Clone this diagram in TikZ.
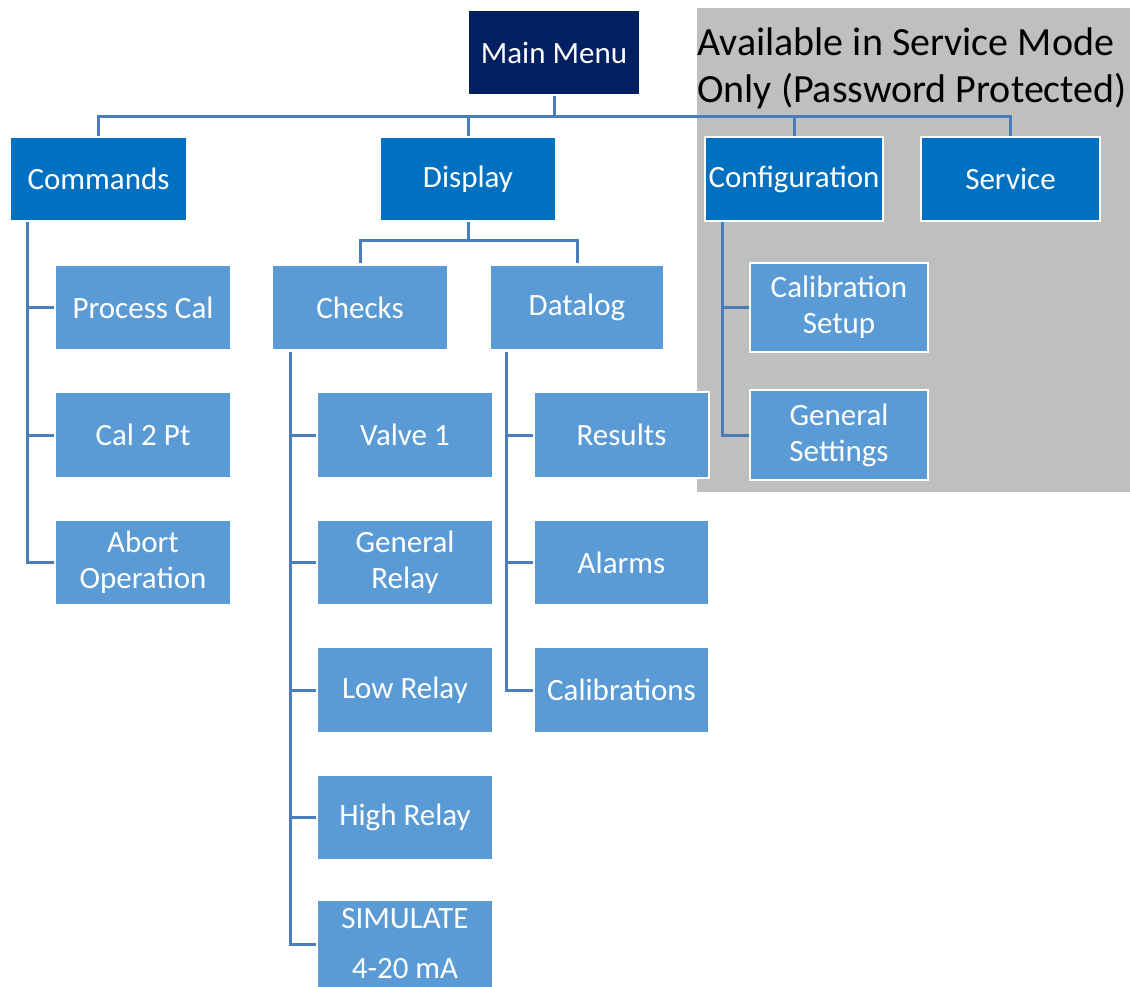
\documentclass[tikz,border=0pt]{standalone}
\usepackage{fontspec}
\setmainfont{Carlito}
\usetikzlibrary{backgrounds}
\definecolor{navy}{HTML}{002060}
\definecolor{topblue}{HTML}{0070C0}
\definecolor{subblue}{HTML}{5B9BD5}
\definecolor{linkblue}{HTML}{4A7EBB}
\definecolor{svcgray}{HTML}{BFBFBF}
\tikzset{
  box/.style={draw=white, line width=2.5pt, inner sep=0pt, outer sep=0pt,
    align=center, text=white, font=\fontsize{31}{36}\selectfont},
  rootbox/.style={box, fill=navy},
  topbox/.style={box, fill=topblue, minimum height=84pt},
  subbox/.style={box, fill=subblue, minimum height=86pt},
  conn/.style={draw=linkblue, line width=3pt},
}
\begin{document}
\begin{tikzpicture}[x=1pt, y=-1pt]
\useasboundingbox (0,0) rectangle (1130,986);
\clip (0,0) rectangle (1130,986);

% boxes
\node[rootbox, minimum width=172pt, minimum height=85pt] (main) at (554,52.5) {Main Menu};

\node[topbox, minimum width=177pt] (commands) at (98.5,179) {Commands};
\node[topbox, minimum width=176pt] (display) at (468,179) {Display};
\node[topbox, minimum width=178pt] (config) at (794,179) {Configuration};
\node[topbox, minimum width=179pt] (service) at (1010.5,179) {Service};

\node[subbox, minimum width=176pt] (proccal) at (143,307.5) {Process Cal};
\node[subbox, minimum width=176pt] (cal2pt) at (143,435) {Cal 2 Pt};
\node[subbox, minimum width=176pt] (abort) at (143,562.5) {Abort\\Operation};

\node[subbox, minimum width=176pt] (checks) at (360,307.5) {Checks};
\node[subbox, minimum width=174pt] (datalog) at (577,307.5) {Datalog};

\node[subbox, minimum width=176pt] (valve) at (405,435) {Valve 1};
\node[subbox, minimum width=176pt] (genrelay) at (405,562.5) {General\\Relay};
\node[subbox, minimum width=176pt] (lowrelay) at (405,690) {Low Relay};
\node[subbox, minimum width=176pt] (highrelay) at (405,817.5) {High Relay};
\node[subbox, minimum width=176pt, minimum height=88pt] (simulate) at (405,944) {SIMULATE\\[14pt]4-20 mA};

\node[subbox, minimum width=175pt] (results) at (621.5,435) {Results};
\node[subbox, minimum width=175pt] (alarms) at (621.5,562.5) {Alarms};
\node[subbox, minimum width=175pt] (calibs) at (621.5,690) {Calibrations};

\node[subbox, minimum width=178pt, minimum height=89pt] (calsetup) at (839,307.5) {Calibration\\Setup};
\node[subbox, minimum width=178pt, minimum height=90pt] (gensettings) at (839,435) {General\\Settings};

% connector junctions
\coordinate (bus) at ([yshift=-21pt]main.south);
\coordinate (dispbus) at ([yshift=-19pt]display.south);
\coordinate (cmdtrunk) at ([xshift=-71.5pt]commands.south);
\coordinate (chktrunk) at ([xshift=-70pt]checks.south);
\coordinate (logtrunk) at ([xshift=-71pt]datalog.south);
\coordinate (cfgtrunk) at ([xshift=-72pt]config.south);

\begin{scope}[on background layer]
  % service-mode region
  \fill[svcgray] (697,8) rectangle (1130,492);
  \node[anchor=base west, inner sep=0pt, align=left, font=\fontsize{40}{47}\selectfont]
    (svcnote) at (697,102) {Available in Service Mode\\Only (Password Protected)};

  % connectors
  \draw[conn] (main.south) -- (bus);
  \draw[conn] (commands.north) |- (bus) -| (service.north);
  \draw[conn] (display.north) -- (display.north |- bus);
  \draw[conn] (config.north) -- (config.north |- bus);
  \draw[conn] (display.south) -- (dispbus);
  \draw[conn] (checks.north) |- (dispbus) -| (datalog.north);
  \draw[conn] (cmdtrunk) |- (abort.west);
  \draw[conn] (cmdtrunk |- proccal.west) -- (proccal.west);
  \draw[conn] (cmdtrunk |- cal2pt.west) -- (cal2pt.west);
  \draw[conn] (chktrunk) |- (simulate.west);
  \draw[conn] (chktrunk |- valve.west) -- (valve.west);
  \draw[conn] (chktrunk |- genrelay.west) -- (genrelay.west);
  \draw[conn] (chktrunk |- lowrelay.west) -- (lowrelay.west);
  \draw[conn] (chktrunk |- highrelay.west) -- (highrelay.west);
  \draw[conn] (logtrunk) |- (calibs.west);
  \draw[conn] (logtrunk |- results.west) -- (results.west);
  \draw[conn] (logtrunk |- alarms.west) -- (alarms.west);
  \draw[conn] (cfgtrunk) |- (gensettings.west);
  \draw[conn] (cfgtrunk |- calsetup.west) -- (calsetup.west);
\end{scope}
\end{tikzpicture}
\end{document}
